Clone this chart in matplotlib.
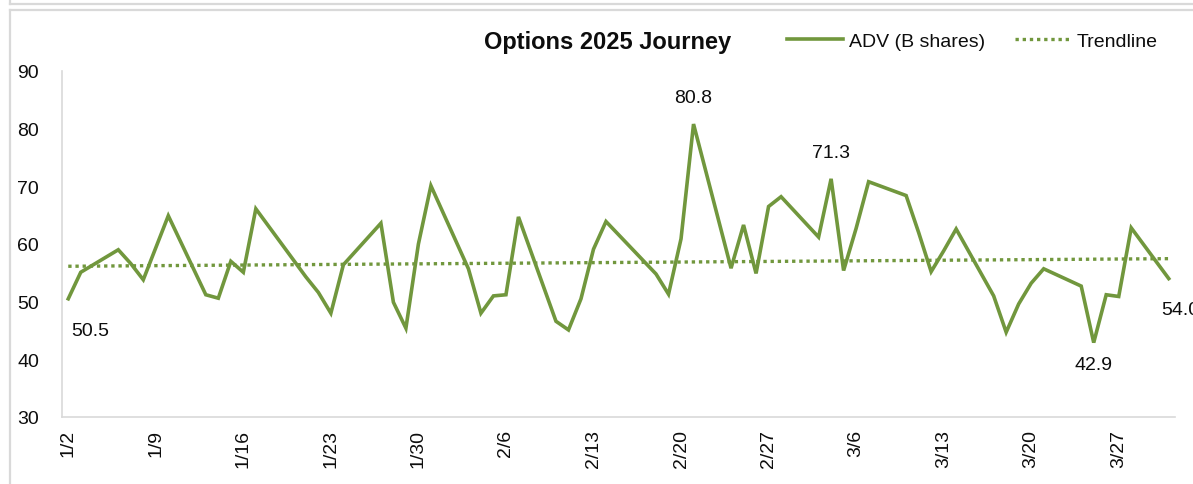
import datetime as dt
import numpy as np
import matplotlib
matplotlib.use('Agg')
import matplotlib.pyplot as plt
import matplotlib.dates as mdates
from matplotlib.lines import Line2D

plt.rcParams['font.family'] = ['Liberation Sans', 'DejaVu Sans']

# Trading days Jan-Mar 2025 (month, day) and ADV in billions of shares
days = [(1, 2), (1, 3), (1, 6), (1, 7), (1, 8), (1, 10), (1, 13), (1, 14), (1, 15), (1, 16),
        (1, 17), (1, 21), (1, 22), (1, 23), (1, 24), (1, 27), (1, 28), (1, 29), (1, 30), (1, 31),
        (2, 3), (2, 4), (2, 5), (2, 6), (2, 7), (2, 10), (2, 11), (2, 12), (2, 13), (2, 14),
        (2, 18), (2, 19), (2, 20), (2, 21), (2, 24), (2, 25), (2, 26), (2, 27), (2, 28),
        (3, 3), (3, 4), (3, 5), (3, 6), (3, 7), (3, 10), (3, 11), (3, 12), (3, 13), (3, 14),
        (3, 17), (3, 18), (3, 19), (3, 20), (3, 21), (3, 24), (3, 25), (3, 26), (3, 27),
        (3, 28), (3, 31)]
adv = [50.5, 55.1, 59.0, 56.6, 53.8, 64.9, 51.2, 50.6, 57.0, 55.1,
       66.1, 54.3, 51.6, 48.0, 56.4, 63.6, 49.9, 45.4, 60.0, 70.1,
       55.7, 48.0, 51.0, 51.2, 64.7, 46.6, 45.1, 50.5, 59.1, 63.9,
       54.8, 51.3, 60.9, 80.8, 55.8, 63.3, 54.9, 66.5, 68.2,
       61.2, 71.3, 55.4, 62.7, 70.8, 68.4, 62.0, 55.2, 58.8, 62.6,
       51.0, 44.7, 49.6, 53.2, 55.7, 52.7, 42.9, 51.2, 50.9,
       62.8, 54.0]
# points that carry a data label: index -> offset in points
label_idx = {0: (16, -23), 33: (0, 19), 40: (0, 19), 55: (0, -16), 59: (8, -22)}

tick_days = [(1, 2), (1, 9), (1, 16), (1, 23), (1, 30), (2, 6), (2, 13), (2, 20), (2, 27),
             (3, 6), (3, 13), (3, 20), (3, 27)]

green = '#71973d'
gray = '#d9d9d9'
ink = '#0d0d0d'

dates = [dt.date(2025, m, d) for m, d in days]
xnum = mdates.date2num(dates)

W, H = 1193, 485
fig = plt.figure(figsize=(W / 100, H / 100), dpi=100)
ax = fig.add_axes([62 / W, 1 - 418 / H, (1175 - 62) / W, (418 - 72) / H])

ax.plot(xnum, adv, color=green, lw=2.6, solid_joinstyle='miter', label='ADV (B shares)')

# linear trendline like Excel
coef = np.polyfit(xnum, adv, 1)
ax.plot(xnum, np.polyval(coef, xnum), color=green, lw=2.4,
        linestyle=(0, (1, 1.15)), label='Trendline')

for i, (dx, dy) in label_idx.items():
    ax.annotate(f'{adv[i]:.1f}', (xnum[i], adv[i]), xytext=(dx, dy),
                textcoords='offset points', ha='center', va='center',
                fontsize=14, color=ink, annotation_clip=False)

ax.set_xlim(xnum[0] - 0.5, xnum[-1] + 0.5)
ax.set_ylim(30, 90)
ax.set_yticks(range(30, 91, 10))
ticks = mdates.date2num([dt.date(2025, m, d) for m, d in tick_days])
ax.set_xticks(ticks)
ax.set_xticklabels([f'{m}/{d}' for m, d in tick_days], rotation=90)
ax.tick_params(axis='both', length=0, labelsize=14, colors=ink)
ax.tick_params(axis='x', pad=8.5)
ax.tick_params(axis='y', pad=16.5)
for s in ['top', 'right']:
    ax.spines[s].set_visible(False)
for s in ['left', 'bottom']:
    ax.spines[s].set_color(gray)
    ax.spines[s].set_linewidth(1.2)

fig.text(608 / W, 1 - 42 / H, 'Options 2025 Journey', ha='center', va='center',
         fontsize=17, fontweight='bold', color=ink)

leg = fig.legend(loc='center left', bbox_to_anchor=(787 / W, 1 - 42 / H), ncol=2,
                 frameon=False, fontsize=14, handlelength=2.9, handletextpad=0.3,
                 columnspacing=1.5, borderaxespad=0, borderpad=0)
for t in leg.get_texts():
    t.set_color(ink)

# chart frame lines
fig.add_artist(Line2D([10 / W, 1], [1 - 5 / H] * 2, color=gray, lw=1.6))
fig.add_artist(Line2D([10 / W] * 2, [1 - 5 / H, 1], color=gray, lw=1.6))
fig.add_artist(Line2D([10 / W, 1], [1 - 11 / H] * 2, color=gray, lw=1.6))
fig.add_artist(Line2D([10 / W] * 2, [0, 1 - 11 / H], color=gray, lw=1.6))

fig.savefig('out.png', dpi=100)
